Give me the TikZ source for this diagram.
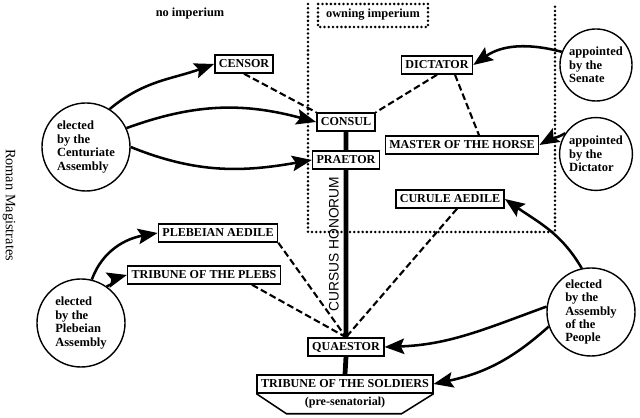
\documentclass[tikz,border=0pt]{standalone}
\usepackage{fontspec}
\setmainfont{Liberation Serif}
\newfontfamily\cursusfont{Liberation Sans}
\usepackage{tikz}
\usetikzlibrary{arrows.meta,positioning,calc}
\tikzset{
  office/.style={draw,line width=1.1pt,fill=white,inner xsep=2.8pt,inner ysep=2.8pt,text height=6.3pt,text depth=0.9pt,font=\fontsize{8.6}{10}\selectfont\bfseries},
  assembly/.style={circle,draw,line width=1pt,fill=white,align=left,inner sep=0pt,font=\fontsize{8.9}{9.6}\selectfont\bfseries},
  electpath/.style={-{Stealth[length=14pt,width=11pt,inset=2.5pt]},line width=1.8pt},
  linkpath/.style={line width=1.5pt,dash pattern=on 4.8pt off 2.4pt},
  cursuspath/.style={line width=3.4pt},
  zoneline/.style={line width=2pt,line cap=round,dash pattern=on 0pt off 3pt},
  zonelabel/.style={font=\fontsize{8.8}{10}\selectfont\bfseries}
}

\begin{document}
\begin{tikzpicture}[x=0.025cm,y=0.025cm]
\useasboundingbox (0,0) rectangle (640,418);

% imperium zone
\draw[zoneline] (308,414) -- (308,186) -- (555,186) -- (555,412);
\draw[zoneline] (318,414) rectangle (428,391);
\node[zonelabel] (owning) at (373,403) {owning imperium};
\node[zonelabel] (noimp) at (190,404) {no imperium};
\node[font=\fontsize{10.2}{12}\selectfont,rotate=-90] (title) at (9,213) {Roman Magistrates};
\node[font=\fontsize{9.8}{11}\cursusfont,rotate=90] (cursus) at (334,174) {CURSUS HONORUM};

% offices
\node[office] (censor) at (244,354) {CENSOR};
\node[office] (dictator) at (437,353) {DICTATOR};
\node[office] (consul) at (346,296) {CONSUL};
\node[office] (praetor) at (346,258) {PRAETOR};
\node[office] (master) at (462,273) {MASTER OF THE HORSE};
\node[office] (curule) at (450,219) {CURULE AEDILE};
\node[office] (plebaedile) at (218,185) {PLEBEIAN AEDILE};
\node[office] (plebs) at (204,143) {TRIBUNE OF THE PLEBS};
\node[office] (quaestor) at (346,71) {QUAESTOR};
\node[office] (soldiers) at (345,34) {TRIBUNE OF THE SOLDIERS};
\node[font=\fontsize{8.6}{10}\selectfont\bfseries] (presen) at (345,15) {(pre-senatorial)};
\draw[line width=1.1pt] (soldiers.south west) -- ++(30,-20) -- ($(soldiers.south east)+(-32,-20)$) -- (soldiers.south east);

% electing bodies
\node[assembly,minimum size=2.2cm] (cent) at (86,271) {elected\\by the\\Centuriate\\Assembly};
\node[assembly,minimum size=1.8cm] (senate) at (596,353) {appointed\\by the\\Senate};
\node[assembly,minimum size=1.82cm] (dictcirc) at (596,264) {appointed\\by the\\Dictator};
\node[assembly,minimum size=2.2cm] (people) at (591,106) {elected\\by the\\Assembly\\of the\\People};
\node[assembly,minimum size=2.2cm] (pleb) at (81,95) {elected\\by the\\Plebeian\\Assembly};

% cursus honorum
\draw[cursuspath] (consul.south) -- (praetor.north) (praetor.south) -- (quaestor.north) (quaestor.south) -- (soldiers.north);

% links
\draw[linkpath] (censor.south) -- (consul.north west);
\draw[linkpath] (dictator.south) -- (consul.north east);
\draw[linkpath] ($(dictator.south)+(18,0)$) -- ($(master.north)+(17,0)$);
\draw[linkpath] (plebaedile.south east) -- (quaestor.north);
\draw[linkpath] ($(plebs.south)+(48,0)$) -- (quaestor.north);
\draw[linkpath] ($(curule.south)+(7,0)$) -- (quaestor.north);

% elections
\draw[electpath] (cent.58) to[out=40,in=200] (censor.west);
\draw[electpath] (cent.25) to[out=20,in=165] (consul.west);
\draw[electpath] (cent.0) to[out=-22,in=190] (praetor.west);
\draw[electpath] (senate.159) to[out=165,in=35] (dictator.east);
\draw[electpath] (dictcirc.146) to[out=210,in=30] (master.east);
\draw[electpath] (people.102) to[out=120,in=-35] (curule.east);
\draw[electpath] (people.173) to[out=200,in=2] (quaestor.east);
\draw[electpath] (people.199) to[out=222,in=12] (soldiers.east);
\draw[electpath] (pleb.76) to[out=70,in=190] (plebaedile.west);
\draw[electpath] (pleb.55) to[out=20,in=195] (plebs.west);
\end{tikzpicture}
\end{document}
